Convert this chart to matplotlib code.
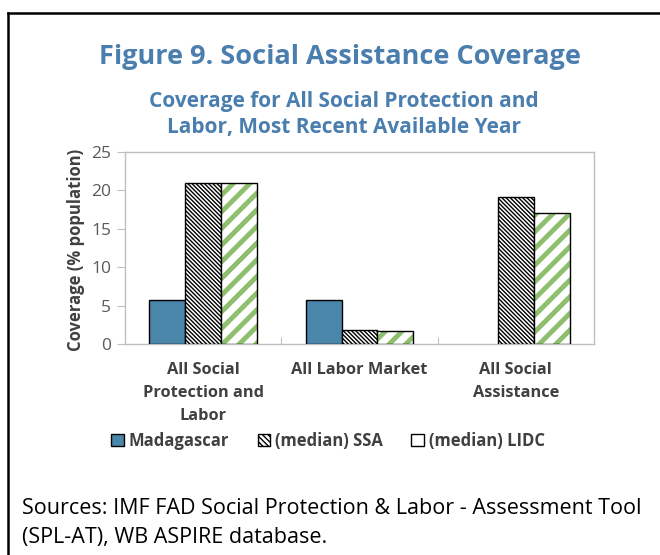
import numpy as np
import matplotlib.pyplot as plt
from matplotlib.lines import Line2D
from matplotlib.patches import Patch

categories = ['All Social\nProtection and\nLabor', 'All Labor Market', 'All Social\nAssistance']
madagascar = [5.7, 5.7, 0.0]
ssa_median = [21.0, 1.8, 19.1]
lidc_median = [21.0, 1.7, 17.0]
series_names = ['Madagascar', '(median) SSA', '(median) LIDC']
y_ticks = [0, 5, 10, 15, 20, 25]

blue = '#4A86AA'
green = '#8DBF6E'
title_col = '#4A7EAF'
gray_text = '#595959'
dark_text = '#404040'

plt.rcParams['font.family'] = ['Open Sans', 'DejaVu Sans']

fig = plt.figure(figsize=(6.6, 5.55), dpi=100)
ax = fig.add_axes([125 / 660, 1 - 344 / 555, 469 / 660, 192 / 555])

x = np.arange(len(categories))
w = 0.23

# Madagascar bars (skip empty values so no stray edge line is drawn)
mad = np.array(madagascar)
keep = mad > 0
ax.bar(x[keep] - w, mad[keep], w, color=blue, edgecolor='black', linewidth=1, zorder=3)

# SSA: black dense hatch
ax.bar(x, ssa_median, w, color='white', edgecolor='black', hatch='\\' * 8,
       linewidth=1, zorder=3)

# LIDC: green hatch, then black outline on top
gb = ax.bar(x + w, lidc_median, w, color='white', edgecolor=green, hatch='//',
            linewidth=0, zorder=3)
for b in gb:
    try:
        b.set_hatch_linewidth(3.5)
    except AttributeError:
        pass
ax.bar(x + w, lidc_median, w, color='none', edgecolor='black', linewidth=1, zorder=4)

ax.set_xlim(-0.5, 2.5)
ax.set_ylim(0, 25)
ax.set_yticks(y_ticks)
ax.set_xticks([0.5, 1.5])
ax.set_xticklabels([])
ax.tick_params(axis='x', direction='in', length=5, color='#BFBFBF')
ax.tick_params(axis='y', direction='out', length=6, color='#BFBFBF',
               labelsize=12.5, labelcolor=gray_text, pad=4)
for s in ax.spines.values():
    s.set_color('#BFBFBF')
    s.set_linewidth(1)

for i, c in enumerate(categories):
    ax.text(i, -2.3, c, ha='center', va='top', fontsize=11.8, fontweight='bold',
            color=dark_text, linespacing=1.6, transform=ax.transData)

fig.text(76 / 660, 1 - 250 / 555, 'Coverage (% population)', rotation=90,
         ha='center', va='center', fontsize=12, fontweight='bold', color=dark_text)

fig.text(340 / 660, 1 - 57 / 555, 'Figure 9. Social Assistance Coverage',
         ha='center', va='center', fontsize=19.5, fontweight='bold', color=title_col)
fig.text(344 / 660, 1 - 101 / 555, 'Coverage for All Social Protection and',
         ha='center', va='center', fontsize=15, fontweight='bold', color=title_col)
fig.text(344 / 660, 1 - 128 / 555, 'Labor, Most Recent Available Year',
         ha='center', va='center', fontsize=15, fontweight='bold', color=title_col)

handles = [
    Patch(facecolor=blue, edgecolor='black', linewidth=1),
    Patch(facecolor='white', edgecolor='black', hatch='\\' * 6, linewidth=1),
    Patch(facecolor='white', edgecolor='black', linewidth=1),
]
fig.legend(handles, series_names, loc='center', bbox_to_anchor=(328 / 660, 1 - 441 / 555),
           ncol=3, frameon=False, handlelength=0.75, handleheight=0.75,
           handletextpad=0.3, columnspacing=1.7,
           prop={'size': 12, 'weight': 'bold'}, labelcolor=dark_text)

fig.text(22 / 660, 1 - 508 / 555,
         'Sources: IMF FAD Social Protection & Labor - Assessment Tool',
         ha='left', va='center', fontsize=15.5, color='black')
fig.text(22 / 660, 1 - 538 / 555, '(SPL-AT), WB ASPIRE database.',
         ha='left', va='center', fontsize=15.5, color='black')

# outer border (top and left visible)
fig.add_artist(Line2D([8 / 660, 8 / 660], [0, 1 - 13 / 555], color='black',
                      linewidth=1.8, transform=fig.transFigure))
fig.add_artist(Line2D([8 / 660, 1], [1 - 13 / 555, 1 - 13 / 555], color='black',
                      linewidth=1.8, transform=fig.transFigure))

fig.savefig('out.png', dpi=100)
